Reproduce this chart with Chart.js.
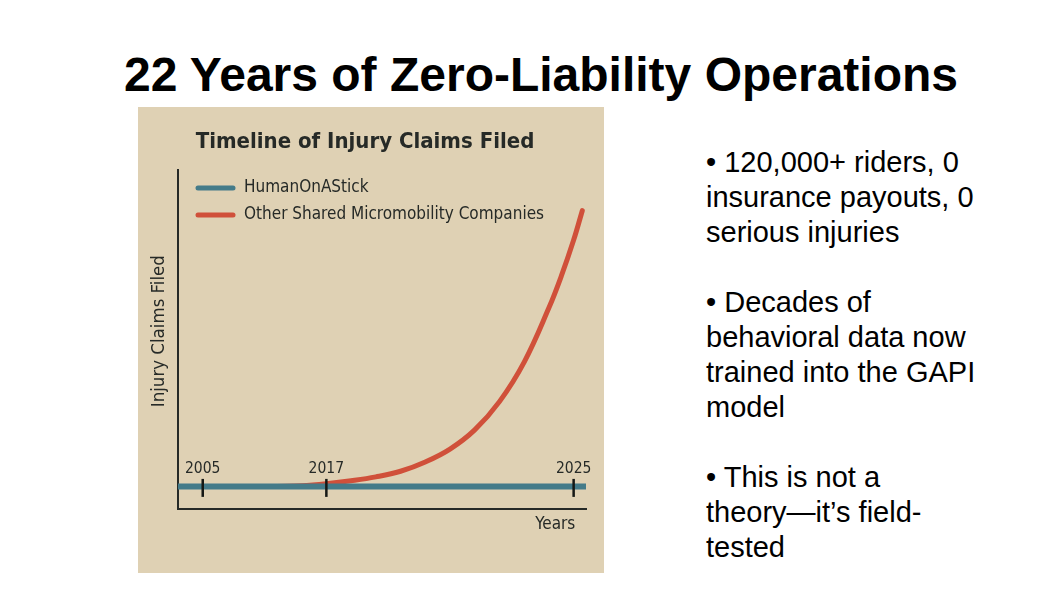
<!DOCTYPE html>
<html>
<head>
<meta charset="utf-8">
<title>22 Years of Zero-Liability Operations</title>
<script src="https://cdn.jsdelivr.net/npm/chart.js@4.4.1/dist/chart.umd.min.js"></script>
<style>
    html, body { margin: 0; padding: 0; background: #ffffff; }
    body { width: 1058px; height: 595px; position: relative; overflow: hidden; font-family: "Liberation Sans", Arial, sans-serif; }
    h1 {
        position: absolute; left: 0; top: 46.5px; width: 1082px; margin: 0;
        text-align: center; font-size: 48px; font-weight: bold; color: #000;
        line-height: 1.15; white-space: nowrap;
    }
    #panel {
        position: absolute; left: 138px; top: 107px; width: 466px; height: 466px;
        background: #dfd1b4;
    }
    #bullets {
        position: absolute; left: 706px; top: 145px; margin: 0;
        font-size: 29px; line-height: 35px; color: #000; white-space: nowrap;
    }
</style>
</head>
<body>
<h1>22 Years of Zero-Liability Operations</h1>
<div id="panel"><canvas id="claimsChart"></canvas></div>
<p id="bullets">
• 120,000+ riders, 0<br>insurance payouts, 0<br>serious injuries<br><br>
• Decades of<br>behavioral data now<br>trained into the GAPI<br>model<br><br>
• This is not a<br>theory—it’s field-<br>tested
</p>

<script>
// --- DATA ---
// x is a timeline step (the picture's time axis is not to scale)
const TICK_STEPS = [2, 12, 32];
const TICK_LABELS = ["2005", "2017", "2025"];

const SERIES_NAMES = ["HumanOnAStick", "Other Shared Micromobility Companies"];

const BLUE_STEPS = [0, 33];
const BLUE_VALUES = [0, 0];

const RED_STEPS = [8, 10, 12, 14, 16, 18, 20, 22, 24, 26, 28, 30, 31, 32, 32.7];
const RED_VALUES = [0, 0.3, 1.2, 2.5, 4.2, 6.7, 10.8, 16.5, 25, 37.5, 55, 79, 93, 109, 122];

// --- STYLE ---
const FONT = "'DejaVu Sans Condensed', 'DejaVu Sans', sans-serif";
const INK = "#262a27";
const BLUE = "#447b89";
const RED = "#d0503a";

function toPoints(xs, ys) {
    return xs.map((x, i) => ({ x: x, y: ys[i] }));
}

// legend drawn inside the plot, stacked
const insideLegend = {
    id: "insideLegend",
    afterDraw(chart) {
        const ctx = chart.ctx;
        ctx.save();
        ctx.font = "17px " + FONT;
        ctx.textBaseline = "middle";
        ctx.fillStyle = INK;
        chart.data.datasets.forEach((ds, i) => {
            const y = 81 + i * 27;
            ctx.strokeStyle = ds.borderColor;
            ctx.lineWidth = 5;
            ctx.lineCap = "round";
            ctx.beginPath();
            ctx.moveTo(60, y);
            ctx.lineTo(95, y);
            ctx.stroke();
            ctx.fillText(ds.label, 106, y);
        });
        ctx.restore();
    }
};

// year ticks sit on the zero line, labels above
const zeroTicks = {
    id: "zeroTicks",
    afterDatasetsDraw(chart) {
        const ctx = chart.ctx;
        const xs = chart.scales.x;
        const y0 = chart.scales.y.getPixelForValue(0);
        ctx.save();
        ctx.strokeStyle = "#151815";
        ctx.lineWidth = 2.5;
        ctx.fillStyle = INK;
        ctx.font = "15.5px " + FONT;
        ctx.textAlign = "center";
        ctx.textBaseline = "middle";
        TICK_STEPS.forEach((step, i) => {
            const x = xs.getPixelForValue(step);
            ctx.beginPath();
            ctx.moveTo(x, y0 - 7.5);
            ctx.lineTo(x, y0 + 10.5);
            ctx.stroke();
            ctx.fillText(TICK_LABELS[i], x, y0 - 17.5);
        });
        ctx.restore();
    }
};

// --- CHART ---
let claimsChart;
document.addEventListener("DOMContentLoaded", () => {
    const ctx = document.getElementById("claimsChart").getContext("2d");
    claimsChart = new Chart(ctx, {
        type: "line",
        data: {
            datasets: [{
                label: SERIES_NAMES[0],
                data: toPoints(BLUE_STEPS, BLUE_VALUES),
                borderColor: BLUE,
                borderWidth: 6,
                borderCapStyle: "round",
                pointRadius: 0,
                order: 0
            }, {
                label: SERIES_NAMES[1],
                data: toPoints(RED_STEPS, RED_VALUES),
                borderColor: RED,
                borderWidth: 5,
                borderCapStyle: "round",
                tension: 0.4,
                pointRadius: 0,
                order: 1
            }]
        },
        options: {
            responsive: true,
            maintainAspectRatio: false,
            animation: false,
            layout: { padding: { left: 6, right: 18, top: 8, bottom: 33.8 } },
            scales: {
                x: {
                    type: "linear",
                    min: 0,
                    max: 33,
                    grid: { display: false, drawTicks: false },
                    ticks: { display: false },
                    border: { display: true, color: INK, width: 2 },
                    title: {
                        // trailing en + thin space pulls the label in from the axis end
                        display: true, text: "Years\u2002\u2009", align: "end", color: INK,
                        font: { family: FONT, size: 17 }, padding: { top: 8, bottom: 4 }
                    },
                    afterFit: (scale) => { scale.height = 30.2; }
                },
                y: {
                    min: -10,
                    max: 140,
                    grid: { display: false, drawTicks: false },
                    ticks: { display: false },
                    border: { display: true, color: INK, width: 2 },
                    title: {
                        // leading em space nudges the label a little above centre
                        display: true, text: "\u2003Injury Claims Filed", color: INK,
                        font: { family: FONT, size: 18.5 }, padding: { top: 4, bottom: 4 }
                    },
                    afterFit: (scale) => { scale.width = 34; }
                }
            },
            plugins: {
                legend: { display: false },
                tooltip: { enabled: false },
                title: {
                    display: true,
                    text: "Timeline of Injury Claims Filed",
                    color: INK,
                    font: { family: FONT, size: 22, weight: "bold" },
                    padding: { top: 13.8, bottom: 14.8 }
                }
            }
        },
        plugins: [insideLegend, zeroTicks]
    });
});
</script>
</body>
</html>
